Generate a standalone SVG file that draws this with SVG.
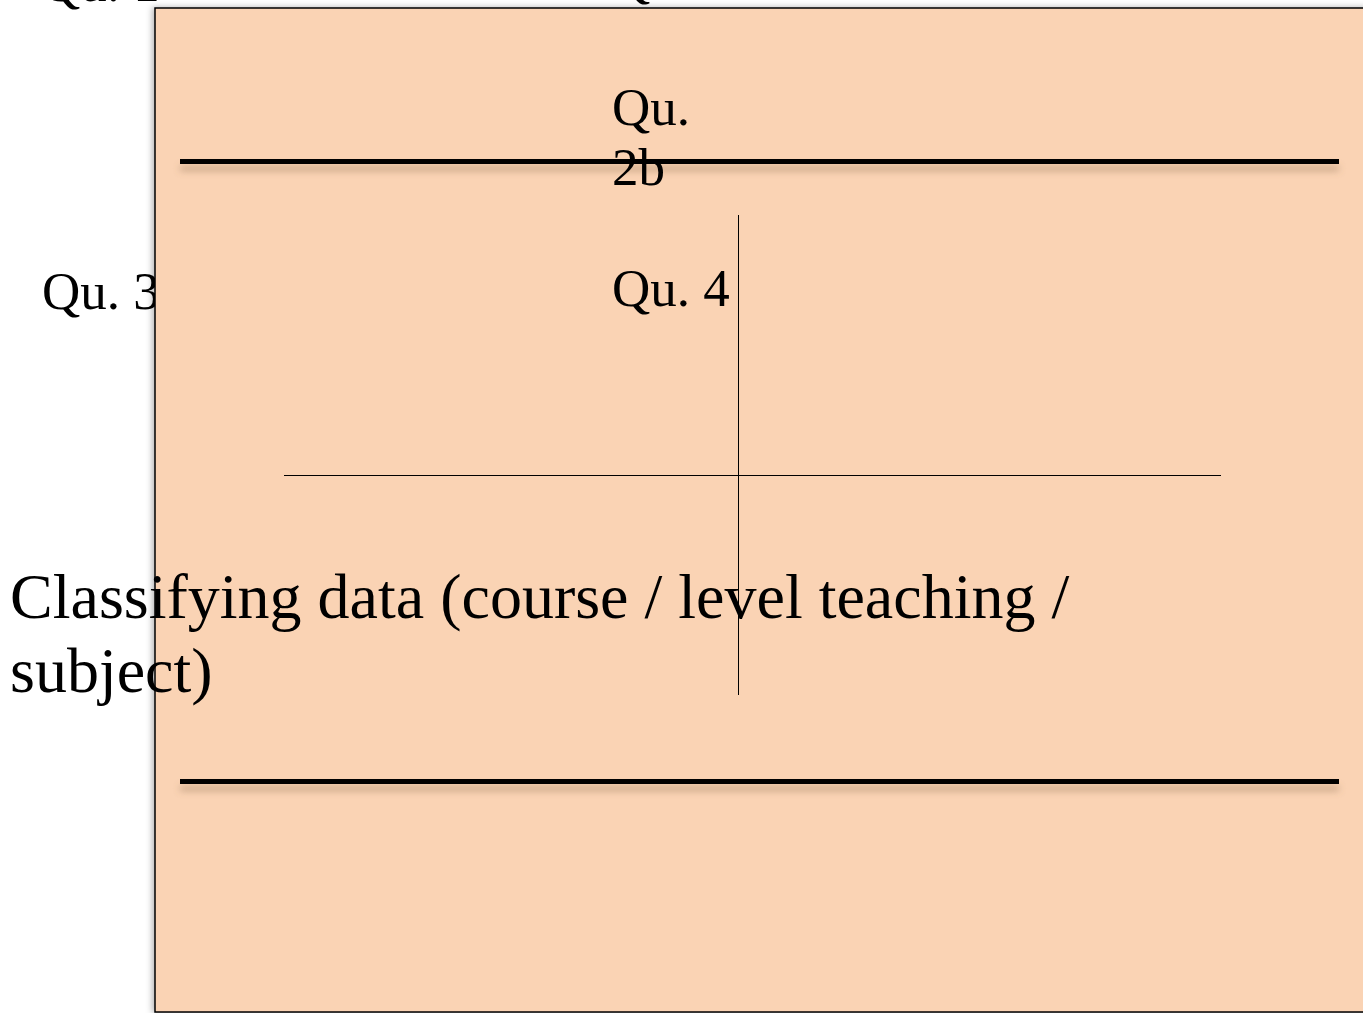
<svg xmlns="http://www.w3.org/2000/svg" width="1363" height="1013" viewBox="0 0 1363 1013">
<style>
.t{font-family:"Liberation Serif","Times New Roman",serif;fill:#000}
.q{font-size:53px}
.big{font-size:64px}
.thick{stroke:#000;stroke-width:5;fill:none}
.thin{stroke:#000;stroke-width:1;fill:none}
</style>
<defs>
<filter id="ls" filterUnits="userSpaceOnUse" x="0" y="0" width="1363" height="1013">
<feDropShadow dx="0" dy="7" stdDeviation="3.5" flood-color="#8a6a50" flood-opacity="0.45"/>
</filter>
<filter id="rs" filterUnits="userSpaceOnUse" x="0" y="0" width="1363" height="1013">
<feDropShadow dx="-2" dy="0" stdDeviation="3" flood-color="#000" flood-opacity="0.3"/>
</filter>
</defs>
<rect width="1363" height="1013" fill="#fff"/>
<g id="label-qu1"><text class="t q" x="42" y="1">Qu. 1</text></g>
<g id="label-qu2a"><text class="t q" x="612" y="-4">Qu. 2a</text></g>
<g id="label-qu3"><text class="t q" x="42" y="309">Qu. 3</text></g>
<g id="panel"><rect x="155" y="8" width="1220" height="1004" fill="#fad3b4" stroke="#000" stroke-width="1.5" filter="url(#rs)"/></g>
<g id="connectors">
<line class="thick" x1="180" y1="161.5" x2="1339" y2="161.5" filter="url(#ls)"/>
<line class="thick" x1="180" y1="781.5" x2="1339" y2="781.5" filter="url(#ls)"/>
<line class="thin" x1="738.5" y1="215" x2="738.5" y2="695"/>
<line class="thin" x1="284" y1="475.5" x2="1221" y2="475.5"/>
</g>
<g id="label-qu2b"><text class="t q" x="612" y="125">Qu.</text><text class="t q" x="612" y="185">2b</text></g>
<g id="label-qu4"><text class="t q" x="612" y="306">Qu. 4</text></g>
<g id="label-classifying"><text class="t big" x="10" y="618">Classifying data (course / level teaching /</text><text class="t big" x="10" y="692">subject)</text></g>
</svg>
